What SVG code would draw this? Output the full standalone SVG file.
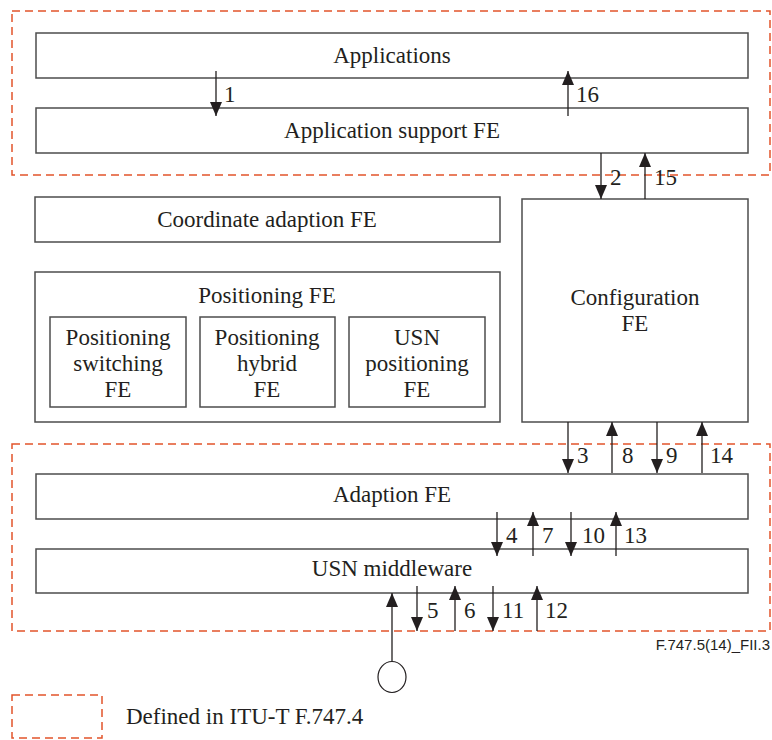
<svg xmlns="http://www.w3.org/2000/svg" width="772" height="740" viewBox="0 0 772 740">
  <style>
    .box { fill: #ffffff; stroke: #4d4d4d; stroke-width: 1.5; }
    .zone { fill: none; stroke: #e2542b; stroke-width: 1.5; stroke-dasharray: 8 5; }
    text.lbl, text.num { font-family: 'Liberation Serif', 'Times New Roman', 'DejaVu Serif', serif; font-size: 23px; fill: #231f20; }
    .mid { text-anchor: middle; }
    .flow { stroke: #231f20; stroke-width: 1.3; fill: none; marker-end: url(#head); }
    text.tag { font-family: 'Liberation Sans', Arial, sans-serif; font-size: 15px; fill: #231f20; text-anchor: end; }
  </style>
  <defs>
    <marker id="head" viewBox="0 0 14 12" refX="14" refY="6" markerWidth="14" markerHeight="12" markerUnits="userSpaceOnUse" orient="auto">
      <path d="M0,0 L14,6 L0,12 z" fill="#231f20"/>
    </marker>
  </defs>

  <rect width="772" height="740" fill="#ffffff"/>

  <!-- dashed zones: upper and lower -->
  <g id="zones">
    <rect class="zone" x="12" y="11" width="758" height="164"/>
    <rect class="zone" x="12" y="444" width="758" height="187"/>
  </g>

  <g id="applications">
    <rect class="box" x="36" y="33" width="712" height="45"/>
    <text class="lbl mid" x="392" y="63">Applications</text>
  </g>

  <g id="app-support">
    <rect class="box" x="36" y="108" width="712" height="45"/>
    <text class="lbl mid" x="392" y="138">Application support FE</text>
  </g>

  <g id="coordinate-adaption">
    <rect class="box" x="35" y="197" width="465" height="45"/>
    <text class="lbl mid" x="267" y="227">Coordinate adaption FE</text>
  </g>

  <g id="positioning">
    <rect class="box" x="35" y="272" width="465" height="150"/>
    <text class="lbl mid" x="267" y="303">Positioning FE</text>
    <g id="pos-switching">
      <rect class="box" x="50" y="317" width="136" height="90"/>
      <text class="lbl mid" x="118" y="345">Positioning</text>
      <text class="lbl mid" x="118" y="371">switching</text>
      <text class="lbl mid" x="118" y="397">FE</text>
    </g>
    <g id="pos-hybrid">
      <rect class="box" x="200" y="317" width="135" height="90"/>
      <text class="lbl mid" x="267" y="345">Positioning</text>
      <text class="lbl mid" x="267" y="371">hybrid</text>
      <text class="lbl mid" x="267" y="397">FE</text>
    </g>
    <g id="usn-positioning">
      <rect class="box" x="349" y="317" width="136" height="90"/>
      <text class="lbl mid" x="417" y="345">USN</text>
      <text class="lbl mid" x="417" y="371">positioning</text>
      <text class="lbl mid" x="417" y="397">FE</text>
    </g>
  </g>

  <g id="configuration">
    <rect class="box" x="522" y="199" width="226" height="223"/>
    <text class="lbl mid" x="635" y="305">Configuration</text>
    <text class="lbl mid" x="635" y="331">FE</text>
  </g>

  <g id="adaption">
    <rect class="box" x="36" y="474" width="712" height="45"/>
    <text class="lbl mid" x="392" y="502">Adaption FE</text>
  </g>

  <g id="usn-middleware">
    <rect class="box" x="36" y="549" width="712" height="44"/>
    <text class="lbl mid" x="392" y="576">USN middleware</text>
  </g>

  <g id="sensor">
    <ellipse cx="392" cy="677" rx="14" ry="15.5" fill="#ffffff" stroke="#231f20" stroke-width="1.2"/>
  </g>

  <!-- numbered reference points between the blocks -->
  <g id="connectors">
    <line class="flow" x1="216" y1="71" x2="216" y2="116"/>
    <line class="flow" x1="568" y1="116" x2="568" y2="71"/>
    <line class="flow" x1="601" y1="153" x2="601" y2="199"/>
    <line class="flow" x1="645" y1="199" x2="645" y2="153"/>
    <line class="flow" x1="568" y1="422" x2="568" y2="473"/>
    <line class="flow" x1="612" y1="473" x2="612" y2="422"/>
    <line class="flow" x1="657" y1="422" x2="657" y2="473"/>
    <line class="flow" x1="702" y1="473" x2="702" y2="422"/>
    <line class="flow" x1="497" y1="512" x2="497" y2="556"/>
    <line class="flow" x1="533" y1="556" x2="533" y2="512"/>
    <line class="flow" x1="571" y1="512" x2="571" y2="556"/>
    <line class="flow" x1="616" y1="556" x2="616" y2="512"/>
    <line class="flow" x1="417" y1="586" x2="417" y2="631"/>
    <line class="flow" x1="455" y1="631" x2="455" y2="586"/>
    <line class="flow" x1="493" y1="586" x2="493" y2="631"/>
    <line class="flow" x1="537" y1="631" x2="537" y2="586"/>
    <line class="flow" x1="392" y1="661" x2="392" y2="593"/>
  </g>

  <g id="connector-labels">
    <text class="num" x="224" y="102">1</text>
    <text class="num" x="576" y="102">16</text>
    <text class="num" x="610" y="185">2</text>
    <text class="num" x="654" y="185">15</text>
    <text class="num" x="577" y="463">3</text>
    <text class="num" x="622" y="463">8</text>
    <text class="num" x="666" y="463">9</text>
    <text class="num" x="710" y="463">14</text>
    <text class="num" x="506" y="543">4</text>
    <text class="num" x="542" y="543">7</text>
    <text class="num" x="582" y="543">10</text>
    <text class="num" x="624" y="543">13</text>
    <text class="num" x="427" y="618">5</text>
    <text class="num" x="464" y="618">6</text>
    <text class="num" x="502" y="618">11</text>
    <text class="num" x="545" y="618">12</text>
  </g>

  <text class="tag" x="770" y="650">F.747.5(14)_FII.3</text>

  <g id="legend">
    <rect class="zone" x="12" y="695" width="90" height="43"/>
    <text class="lbl" x="126" y="724">Defined in ITU-T F.747.4</text>
  </g>
</svg>
